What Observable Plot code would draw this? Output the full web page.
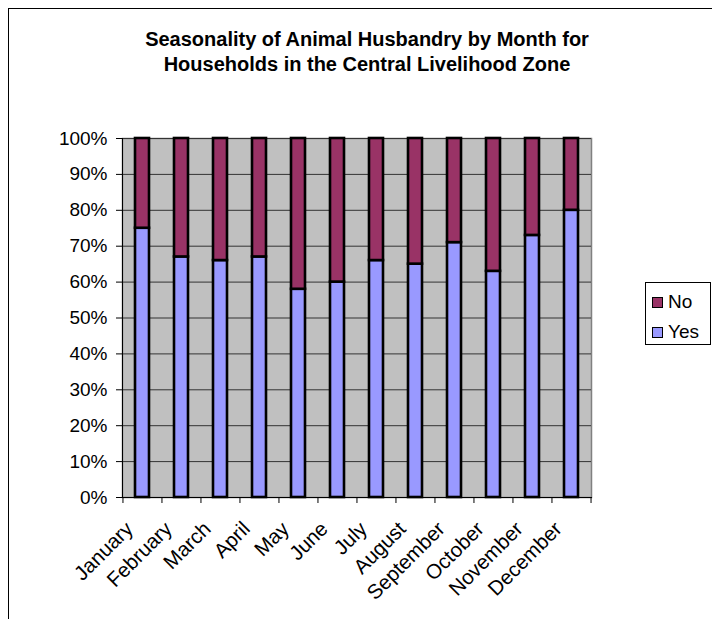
<!DOCTYPE html>
<html>
<head>
<meta charset="utf-8">
<script src="https://cdn.jsdelivr.net/npm/d3@7"></script>
<script src="https://cdn.jsdelivr.net/npm/@observablehq/plot@0.6"></script>
<style>
  html, body { margin: 0; padding: 0; background: #fff; overflow: hidden; }
  #wrap { position: relative; width: 712px; height: 619px; overflow: hidden;
          font-family: "Liberation Sans", Arial, Helvetica, sans-serif; color: #000; }
  #border { position: absolute; left: 8px; top: 8px; width: 800px; height: 700px;
            border-left: 1px solid #000; border-top: 1px solid #000; }
  #chart { position: absolute; left: 0; top: 0; }
  #title { position: absolute; left: 0; top: 27px; width: 734px; text-align: center;
           font-weight: bold; font-size: 20px; line-height: 25px; }
  #legend { position: absolute; left: 645px; top: 282px; width: 66px; height: 63px;
            border: 1px solid #000; background: #fff; box-sizing: border-box; }
  .item { position: absolute; left: 6px; display: flex; align-items: center; font-size: 19px; }
  .sw { width: 9px; height: 9px; border: 1.5px solid #000; margin-right: 5px; }
</style>
</head>
<body>
<div id="wrap">
  <div id="border"></div>
  <div id="chart"></div>
  <div id="title">Seasonality of Animal Husbandry by Month for<br>Households in the Central Livelihood Zone</div>
  <div id="legend"></div>
</div>
<script>
// Share of households keeping animals, by month (percent answering Yes)
const months = ["January", "February", "March", "April", "May", "June",
                "July", "August", "September", "October", "November", "December"];
const yesPct = [75, 67, 66, 67, 58, 60, 66, 65, 71, 63, 73, 80];
const answers = ["Yes", "No"];
const answerColors = ["#9999FF", "#993366"];
const yTicks = [0, 10, 20, 30, 40, 50, 60, 70, 80, 90, 100];
const gridTicks = yTicks.slice(1);

// Stacked rows: Yes at the bottom, No fills the rest up to 100%
const rows = months.flatMap((m, i) => [
  {month: m, answer: "Yes", pct: yesPct[i]},
  {month: m, answer: "No", pct: 100 - yesPct[i]}
]);

const W = 712, H = 619;
const mL = 122, mR = 121, mT = 138, mB = 122;
const step = (W - mL - mR) / months.length;
const font = "Liberation Sans, Arial, Helvetica, sans-serif";

const chart = Plot.plot({
  width: W,
  height: H,
  marginLeft: mL,
  marginRight: mR,
  marginTop: mT,
  marginBottom: mB,
  style: {fontFamily: font, fontSize: "19px", background: "transparent", overflow: "visible"},
  x: {domain: months, paddingInner: 0.63, paddingOuter: 0.315, axis: null},
  y: {domain: [0, 100], axis: null},
  color: {domain: answers, range: answerColors},
  marks: [
    Plot.frame({fill: "#c0c0c0", stroke: "#808080", strokeWidth: 1.5}),
    Plot.ruleY(gridTicks, {stroke: "#333", strokeWidth: 1}),
    Plot.barY(rows, {x: "month", y: "pct", fill: "answer", stroke: "#000", strokeWidth: 2.6}),
    Plot.frame({anchor: "left", stroke: "#000", strokeWidth: 1}),
    Plot.frame({anchor: "bottom", stroke: "#000", strokeWidth: 1}),
    Plot.axisY(yTicks, {tickSize: 6, tickPadding: 9, tickFormat: d => d + "%", fontSize: 19, label: null}),
    // x ticks sit on the boundaries between months
    Plot.axisX(months, {tickSize: 6, tickFormat: () => "", dx: -step / 2, label: null}),
    Plot.axisX([months[months.length - 1]], {tickSize: 6, tickFormat: () => "", dx: step / 2, label: null}),
    Plot.text(months, {x: d => d, y: 0, text: d => d, rotate: -45, textAnchor: "end",
                       dx: -13, dy: 28, fontSize: 20.5})
  ]
});
document.getElementById("chart").appendChild(chart);

// Legend: No above Yes
const legend = document.getElementById("legend");
[["No", answerColors[1], 8], ["Yes", answerColors[0], 38]].forEach(([label, color, top]) => {
  const item = document.createElement("div");
  item.className = "item";
  item.style.top = top + "px";
  const sw = document.createElement("div");
  sw.className = "sw";
  sw.style.background = color;
  const t = document.createElement("span");
  t.textContent = label;
  item.appendChild(sw);
  item.appendChild(t);
  legend.appendChild(item);
});
</script>
</body>
</html>
